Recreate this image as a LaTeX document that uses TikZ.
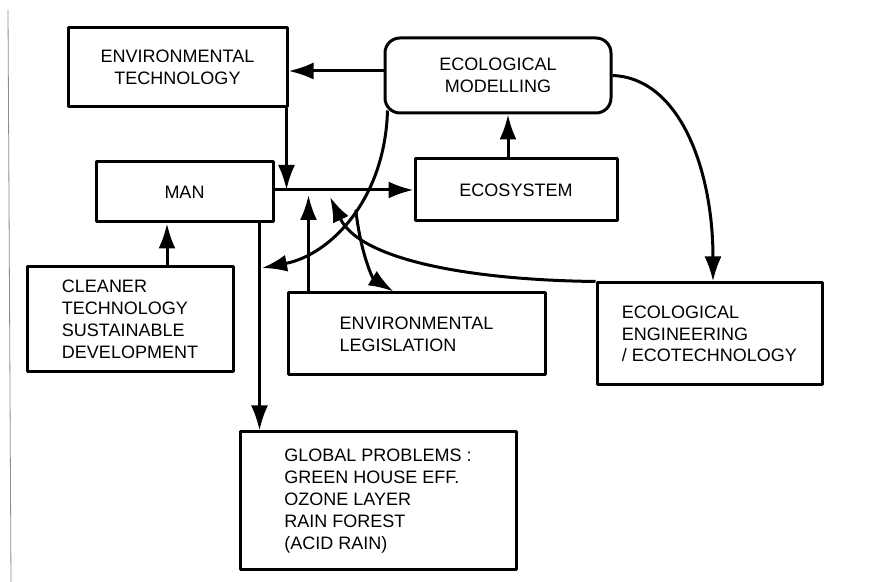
\documentclass[tikz,border=0pt]{standalone}
\usepackage{fontspec}
\setmainfont{Liberation Sans}
\usetikzlibrary{arrows.meta}

\begin{document}
\begin{tikzpicture}
  [x=0.5pt,y=-0.5pt,line width=1.5pt,line join=round,
   every node/.style={font=\fontsize{9}{10.9}\selectfont},
   box/.style={draw,rectangle,align=left,inner sep=2pt},
   arr/.style={-{Latex[length=12.5pt,width=8.5pt]}}]
  \useasboundingbox (0,0) rectangle (874,582);
  \draw[line width=0.4pt,black!45] (8,10) -- (11,582);

  \node (envtech) [box,align=center,minimum width=109.5pt,minimum height=39.5pt] at (177.5,67.5) {ENVIRONMENTAL\\TECHNOLOGY};
  \node (ecomod) [box,align=center,rounded corners=7.5pt,minimum width=113pt,minimum height=37.5pt] at (498,75.5) {ECOLOGICAL\\MODELLING};
  \node (man) [box,minimum width=88.5pt,minimum height=30pt] at (184.5,192) {MAN};
  \node (ecosys) [box,minimum width=101pt,minimum height=31pt] at (516,190) {ECOSYSTEM};
  \node (cleaner) [box,minimum width=103pt,minimum height=52.5pt] at (130,319.5) {CLEANER\\TECHNOLOGY\\SUSTAINABLE\\DEVELOPMENT};
  \node (legis) [box,minimum width=128.5pt,minimum height=41pt] at (416.5,334) {ENVIRONMENTAL\\LEGISLATION};
  \node (ecoeng) [box,minimum width=112.5pt,minimum height=51pt] at (709.5,334) {ECOLOGICAL\\ENGINEERING\\/ ECOTECHNOLOGY};
  \node (global) [box,minimum width=138pt,minimum height=69pt] at (378,501) {GLOBAL PROBLEMS :\\GREEN HOUSE EFF.\\OZONE LAYER\\RAIN FOREST\\(ACID RAIN)};

  % points where the connectors leave or meet
  \coordinate (techdown) at ([xshift=-1pt]envtech.south east);
  \coordinate (sysup) at ([xshift=-4pt]ecosys.north);
  \coordinate (cleanup) at ([xshift=18.5pt]cleaner.north);
  \coordinate (mandown) at ([xshift=-7.5pt]man.south east);
  \coordinate (legup) at ([xshift=11pt]legis.north west);
  \coordinate (legin) at ([xshift=53.5pt]legis.north west);
  \coordinate (enghit) at ([xshift=1.75pt]ecoeng.north);
  \coordinate (modcorner) at ([shift={(2pt,2pt)}]ecomod.south west);
  \coordinate (mantip) at (262,268);
  \coordinate (engtip) at (330,197);
  \coordinate (legtip) at (legup |- 0,195);

  \draw[arr] ([yshift=2.25pt]ecomod.west) -- ([yshift=2.25pt]ecomod.west -| envtech.east);
  \draw[arr] (man.east |- ecosys.west) -- (ecosys.west);
  \draw[arr] (techdown) -- (techdown |- ecosys.west);
  \draw[arr] (sysup) -- (sysup |- ecomod.south);
  \draw[arr] (cleanup) -- (cleanup |- man.south);
  \draw[arr] (mandown) -- (mandown |- global.north);
  \draw[arr] (legup) -- (legtip);

  \draw[arr] (modcorner) .. controls (385,200) and (330,255) .. (mantip) coordinate[pos=0.45] (fork);
  \draw[arr] (fork) .. controls (360,250) and (372,278) .. (legin);
  \draw[arr] (ecoeng.north west) .. controls (470,280) and (360,260) .. (engtip);
  \draw[arr] (ecomod.east) .. controls (680,78) and (713,170) .. (enghit);
\end{tikzpicture}
\end{document}
